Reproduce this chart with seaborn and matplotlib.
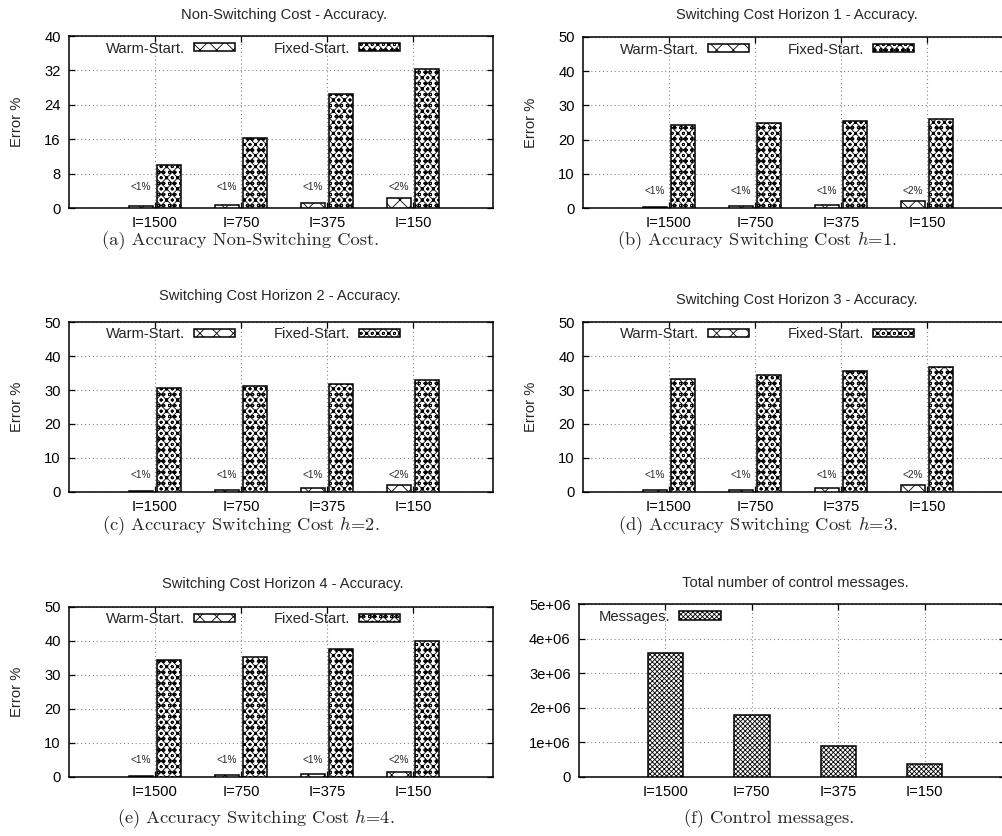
import numpy as np
import pandas as pd
import matplotlib
matplotlib.use("Agg")
import matplotlib.pyplot as plt
from matplotlib.patches import Patch
from matplotlib.ticker import FuncFormatter
import seaborn as sns

# ---- data -------------------------------------------------------------
sizes = ["I=1500", "I=750", "I=375", "I=150"]
methods = ["Warm-Start.", "Fixed-Start."]
warm_labels = ["<1%", "<1%", "<1%", "<2%"]

warm_nsc = [0.5, 0.7, 1.1, 2.3]
fixed_nsc = [10.0, 16.3, 26.5, 32.3]
warm_h1 = [0.4, 0.6, 1.0, 2.1]
fixed_h1 = [24.2, 24.9, 25.3, 25.9]
warm_h2 = [0.4, 0.6, 1.2, 2.2]
fixed_h2 = [30.6, 31.2, 31.8, 32.9]
warm_h3 = [0.5, 0.6, 1.2, 2.2]
fixed_h3 = [33.3, 34.4, 35.6, 36.8]
warm_h4 = [0.4, 0.6, 0.9, 1.5]
fixed_h4 = [34.4, 35.4, 37.6, 39.9]
messages = [3.58e6, 1.80e6, 0.90e6, 0.37e6]

titles = [
    "Non-Switching Cost - Accuracy.",
    "Switching Cost Horizon 1 - Accuracy.",
    "Switching Cost Horizon 2 - Accuracy.",
    "Switching Cost Horizon 3 - Accuracy.",
    "Switching Cost Horizon 4 - Accuracy.",
    "Total number of control messages.",
]
captions = [
    "(a) Accuracy Non-Switching Cost.",
    "(b) Accuracy Switching Cost $h$=1.",
    "(c) Accuracy Switching Cost $h$=2.",
    "(d) Accuracy Switching Cost $h$=3.",
    "(e) Accuracy Switching Cost $h$=4.",
    "(f) Control messages.",
]

# ---- style ------------------------------------------------------------
sns.set_style("ticks")
plt.rcParams["font.family"] = ["Liberation Sans", "DejaVu Sans"]
plt.rcParams["mathtext.fontset"] = "cm"
plt.rcParams["hatch.linewidth"] = 0.6
FS = 10.6

W, H = 1003, 836
fig = plt.figure(figsize=(W / 100, H / 100), dpi=100)


def px_axes(left, top, right, bottom):
    return fig.add_axes([left / W, 1 - bottom / H, (right - left) / W, (bottom - top) / H])


HATCH_WARM = "xx"
HATCH_FIXED = "xxxooo"
HATCH_MSG = "xxxxxxx"


def style_axes(ax, yticks, fmt=None):
    ax.set_xlim(-1, 3.93)
    ax.set_ylim(yticks[0], yticks[-1])
    ax.set_yticks(yticks)
    if fmt is not None:
        ax.yaxis.set_major_formatter(FuncFormatter(fmt))
    ax.set_xlabel("")
    ax.set_ylabel("")
    for s in ax.spines.values():
        s.set_visible(True)
        s.set_linewidth(1.1)
        s.set_color("black")
    ax.tick_params(direction="in", length=4, width=0.9, top=True, right=True,
                   labelsize=FS, pad=6, colors="black")
    ax.set_axisbelow(True)
    ax.grid(True, linestyle=(0, (1, 2.5)), color="#888888", linewidth=0.8)


def accuracy_panel(rect, warm, fixed, yticks, title_xy, caption_xy, title, caption):
    ax = px_axes(*rect)
    df = pd.DataFrame({
        "size": sizes * 2,
        "method": [methods[0]] * 4 + [methods[1]] * 4,
        "error": list(warm) + list(fixed),
    })
    sns.barplot(data=df, x="size", y="error", hue="method", order=sizes,
                hue_order=methods, palette=["white", "white"], saturation=1,
                width=0.66, gap=0.15, edgecolor="black", linewidth=1.1,
                errorbar=None, legend=False, ax=ax)
    for cont, hatch in zip(ax.containers, [HATCH_WARM, HATCH_FIXED]):
        for bar in cont:
            bar.set_hatch(hatch)
            bar.set_zorder(3)
    for i, lab in enumerate(warm_labels):
        ax.text(i - 0.165, 5, lab, ha="center", va="center", fontsize=7.2, zorder=4)
    style_axes(ax, yticks)
    handles = [Patch(facecolor="white", edgecolor="black", hatch=HATCH_WARM, linewidth=1.1),
               Patch(facecolor="white", edgecolor="black", hatch=HATCH_FIXED, linewidth=1.1)]
    ax.legend(handles, methods, loc="upper left", bbox_to_anchor=(0.08, 0.985),
              ncol=2, frameon=False, markerfirst=False, fontsize=FS,
              handlelength=2.8, handleheight=0.5, handletextpad=0.6,
              columnspacing=2.6, borderpad=0.2, borderaxespad=0)
    fig.text(title_xy[0] / W, 1 - title_xy[1] / H, title, ha="center", va="center", fontsize=FS)
    fig.text(caption_xy[0] / W, 1 - caption_xy[1] / H, caption, ha="center", va="center",
             fontsize=13.3, family="cmr10")
    # y-axis label, placed left of the tick labels
    left, top, bottom = rect[0], rect[1], rect[3]
    fig.text((left - 52) / W, 1 - (top + bottom) / 2 / H, "Error %", rotation=90,
             ha="center", va="center", fontsize=FS)
    return ax


accuracy_panel((69, 36, 493, 208), warm_nsc, fixed_nsc, np.arange(0, 41, 8),
               (284, 15), (241, 241), titles[0], captions[0])
accuracy_panel((583, 37, 1007, 208), warm_h1, fixed_h1, np.arange(0, 51, 10),
               (797, 15), (757, 241), titles[1], captions[1])
accuracy_panel((69, 322, 493, 492), warm_h2, fixed_h2, np.arange(0, 51, 10),
               (280, 296), (241, 526), titles[2], captions[2])
accuracy_panel((583, 322, 1007, 492), warm_h3, fixed_h3, np.arange(0, 51, 10),
               (797, 300), (758, 526), titles[3], captions[3])
accuracy_panel((69, 607, 493, 777), warm_h4, fixed_h4, np.arange(0, 51, 10),
               (283, 584), (256, 819), titles[4], captions[4])

# ---- control messages -------------------------------------------------
axf = px_axes(579, 604, 1005, 777)
sns.barplot(x=sizes, y=messages, color="white", saturation=1, width=0.41,
            edgecolor="black", linewidth=1.1, errorbar=None, ax=axf)
for bar in axf.containers[0]:
    bar.set_hatch(HATCH_MSG)
    bar.set_zorder(3)
style_axes(axf, np.arange(0, 5.01e6, 1e6),
           fmt=lambda v, p: "0" if v == 0 else f"{v:.0e}")
axf.legend([Patch(facecolor="white", edgecolor="black", hatch=HATCH_MSG, linewidth=1.1)],
           ["Messages."], loc="upper left", bbox_to_anchor=(0.04, 0.985),
           frameon=False, markerfirst=False, fontsize=FS, handlelength=2.8,
           handleheight=0.5, handletextpad=0.6, borderpad=0.2, borderaxespad=0)
fig.text(795 / W, 1 - 583 / H, titles[5], ha="center", va="center", fontsize=FS)
fig.text(769 / W, 1 - 819 / H, captions[5], ha="center", va="center",
         fontsize=13.3, family="cmr10")

fig.savefig("out.png", dpi=100, facecolor="white")
